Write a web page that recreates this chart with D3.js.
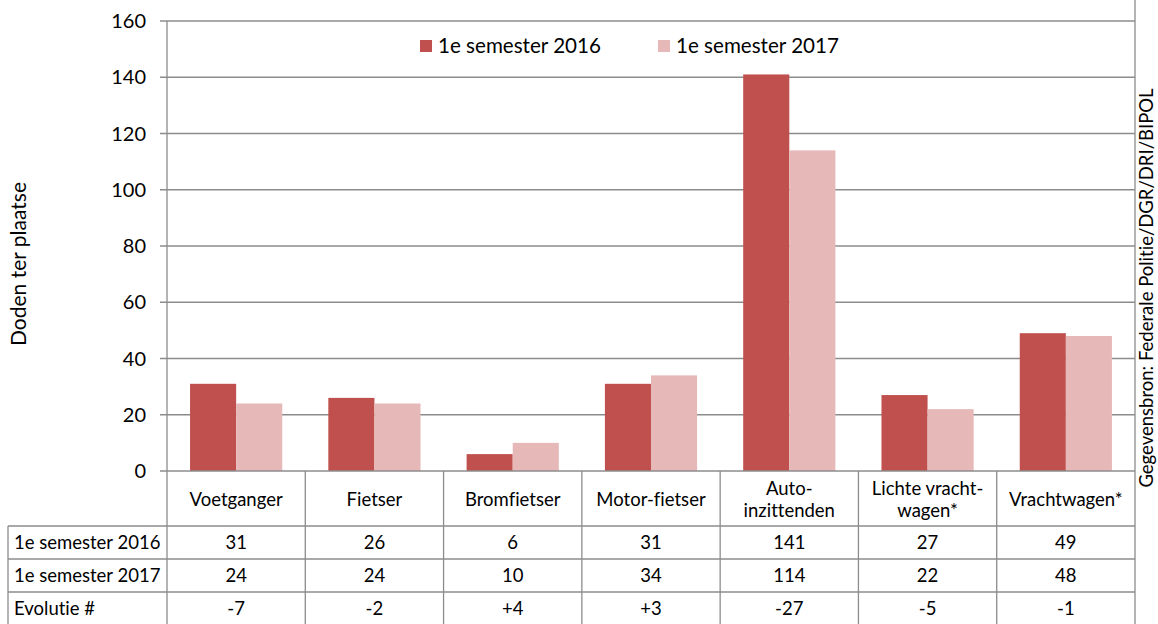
<!DOCTYPE html>
<html>
<head>
<meta charset="utf-8">
<script src="https://cdn.jsdelivr.net/npm/d3@7"></script>
<style>
  body { margin: 0; background: #fff; }
  svg { font-family: Lato, "Open Sans", sans-serif; font-variant-ligatures: none; }
</style>
</head>
<body>
<div id="chart"></div>
<script>
// data
var categories = [
    ['Voetganger'],
    ['Fietser'],
    ['Bromfietser'],
    ['Motor-fietser'],
    ['Auto-', 'inzittenden'],
    ['Lichte vracht-', 'wagen*'],
    ['Vrachtwagen*']
];
var seriesNames = ['1e semester 2016', '1e semester 2017'];
var values2016 = [31, 26, 6, 31, 141, 27, 49];
var values2017 = [24, 24, 10, 34, 114, 22, 48];
var yTicks = [0, 20, 40, 60, 80, 100, 120, 140, 160];
var colors = ['#c0504d', '#e6b9b8'];

var width = 1158, height = 624;
var margin = {top: 21, right: 23, bottom: 153, left: 167};
var plotW = width - margin.left - margin.right,
    plotH = height - margin.top - margin.bottom;

var svg = d3.select('#chart').append('svg')
    .attr('width', width)
    .attr('height', height);

var g = svg.append('g')
    .attr('transform', 'translate(' + margin.left + ',' + margin.top + ')');

var idx = d3.range(categories.length);
var x = d3.scaleBand().domain(idx).range([0, plotW]).paddingInner(0).paddingOuter(0);
var x1 = d3.scaleBand().domain([0, 1]).range([0, x.bandwidth()]).paddingOuter(0.5).paddingInner(0);
var y = d3.scaleLinear().domain([0, 160]).range([plotH, 0]);

var lineColor = '#8c8c8c';
var cellFont = '18.5px';

// gridlines
g.append('g')
    .selectAll('line')
    .data(yTicks.filter(function(t) { return t > 0; }))
    .enter().append('line')
    .attr('x1', -7).attr('x2', plotW)
    .attr('y1', function(d) { return y(d); })
    .attr('y2', function(d) { return y(d); })
    .attr('stroke', lineColor).attr('stroke-width', 1.3);

// y tick labels
g.append('g')
    .selectAll('text')
    .data(yTicks)
    .enter().append('text')
    .attr('x', -21)
    .attr('y', function(d) { return y(d); })
    .attr('dy', '0.35em')
    .attr('text-anchor', 'end')
    .style('font-size', '20px')
    .style('fill', '#000')
    .text(function(d) { return d; });

// bars
var series = [values2016, values2017];
series.forEach(function(vals, s) {
    g.append('g').selectAll('rect')
        .data(vals)
        .enter().append('rect')
        .attr('x', function(d, i) { return x(i) + x1(s); })
        .attr('width', x1.bandwidth())
        .attr('y', function(d) { return y(d); })
        .attr('height', function(d) { return plotH - y(d); })
        .attr('fill', colors[s]);
});

// table
var headerH = 55, rowH = 33;
var tableTop = plotH;
var rows = [
    {label: seriesNames[0], vals: values2016.map(String)},
    {label: seriesNames[1], vals: values2017.map(String)},
    {label: 'Evolutie #', vals: values2017.map(function(v, i) {
        var d = v - values2016[i];
        return (d > 0 ? '+' : '') + d;
    })}
];
var labelLeft = 8 - margin.left;
var tbl = g.append('g');

// horizontal lines
tbl.append('line')
    .attr('x1', -7).attr('x2', plotW)
    .attr('y1', tableTop).attr('y2', tableTop);
d3.range(rows.length + 1).forEach(function(r) {
    var yy = tableTop + headerH + r * rowH;
    tbl.append('line')
        .attr('x1', labelLeft).attr('x2', plotW)
        .attr('y1', yy).attr('y2', yy);
});
// vertical lines
idx.concat([categories.length]).forEach(function(i) {
    var xx = i < categories.length ? x(i) : plotW;
    tbl.append('line')
        .attr('x1', xx).attr('x2', xx)
        .attr('y1', i === 0 ? 0 : (i === categories.length ? -plotH : tableTop))
        .attr('y2', tableTop + headerH + rows.length * rowH);
});
tbl.append('line')
    .attr('x1', labelLeft).attr('x2', labelLeft)
    .attr('y1', tableTop + headerH)
    .attr('y2', tableTop + headerH + rows.length * rowH);
tbl.selectAll('line')
    .attr('stroke', lineColor).attr('stroke-width', 1.3);

// header labels
categories.forEach(function(lines, i) {
    var cy = tableTop + headerH / 2 + 1;
    var t = tbl.append('text')
        .attr('text-anchor', 'middle')
        .style('font-size', cellFont)
        .style('fill', '#000');
    lines.forEach(function(l, k) {
        t.append('tspan')
            .attr('x', x(i) + x.bandwidth() / 2)
            .attr('y', cy + (k - (lines.length - 1) / 2) * 22)
            .attr('dy', '0.35em')
            .text(l);
    });
});

// rows
rows.forEach(function(row, r) {
    var cy = tableTop + headerH + r * rowH + rowH / 2;
    tbl.append('text')
        .attr('x', labelLeft + 6)
        .attr('y', cy)
        .attr('dy', '0.35em')
        .style('font-size', cellFont)
        .text(row.label);
    row.vals.forEach(function(v, i) {
        tbl.append('text')
            .attr('x', x(i) + x.bandwidth() / 2)
            .attr('y', cy)
            .attr('dy', '0.35em')
            .attr('text-anchor', 'middle')
            .style('font-size', cellFont)
            .text(v);
    });
});

// legend
var legendX = [420, 658];
seriesNames.forEach(function(name, s) {
    var lg = svg.append('g')
        .attr('transform', 'translate(' + legendX[s] + ',46)');
    lg.append('rect')
        .attr('x', 0).attr('y', -6)
        .attr('width', 12).attr('height', 12)
        .attr('fill', colors[s]);
    lg.append('text')
        .attr('x', 18)
        .attr('y', 0)
        .attr('dy', '0.35em')
        .style('font-size', '20.6px')
        .text(name);
});

// y axis title
svg.append('text')
    .attr('transform', 'translate(26,264) rotate(-90)')
    .attr('text-anchor', 'middle')
    .style('font-size', '21px')
    .text('Doden ter plaatse');

// source
svg.append('text')
    .attr('transform', 'translate(1153,288) rotate(-90)')
    .attr('text-anchor', 'middle')
    .style('font-size', '18.5px')
    .text('Gegevensbron: Federale Politie/DGR/DRI/BIPOL');
</script>
</body>
</html>
